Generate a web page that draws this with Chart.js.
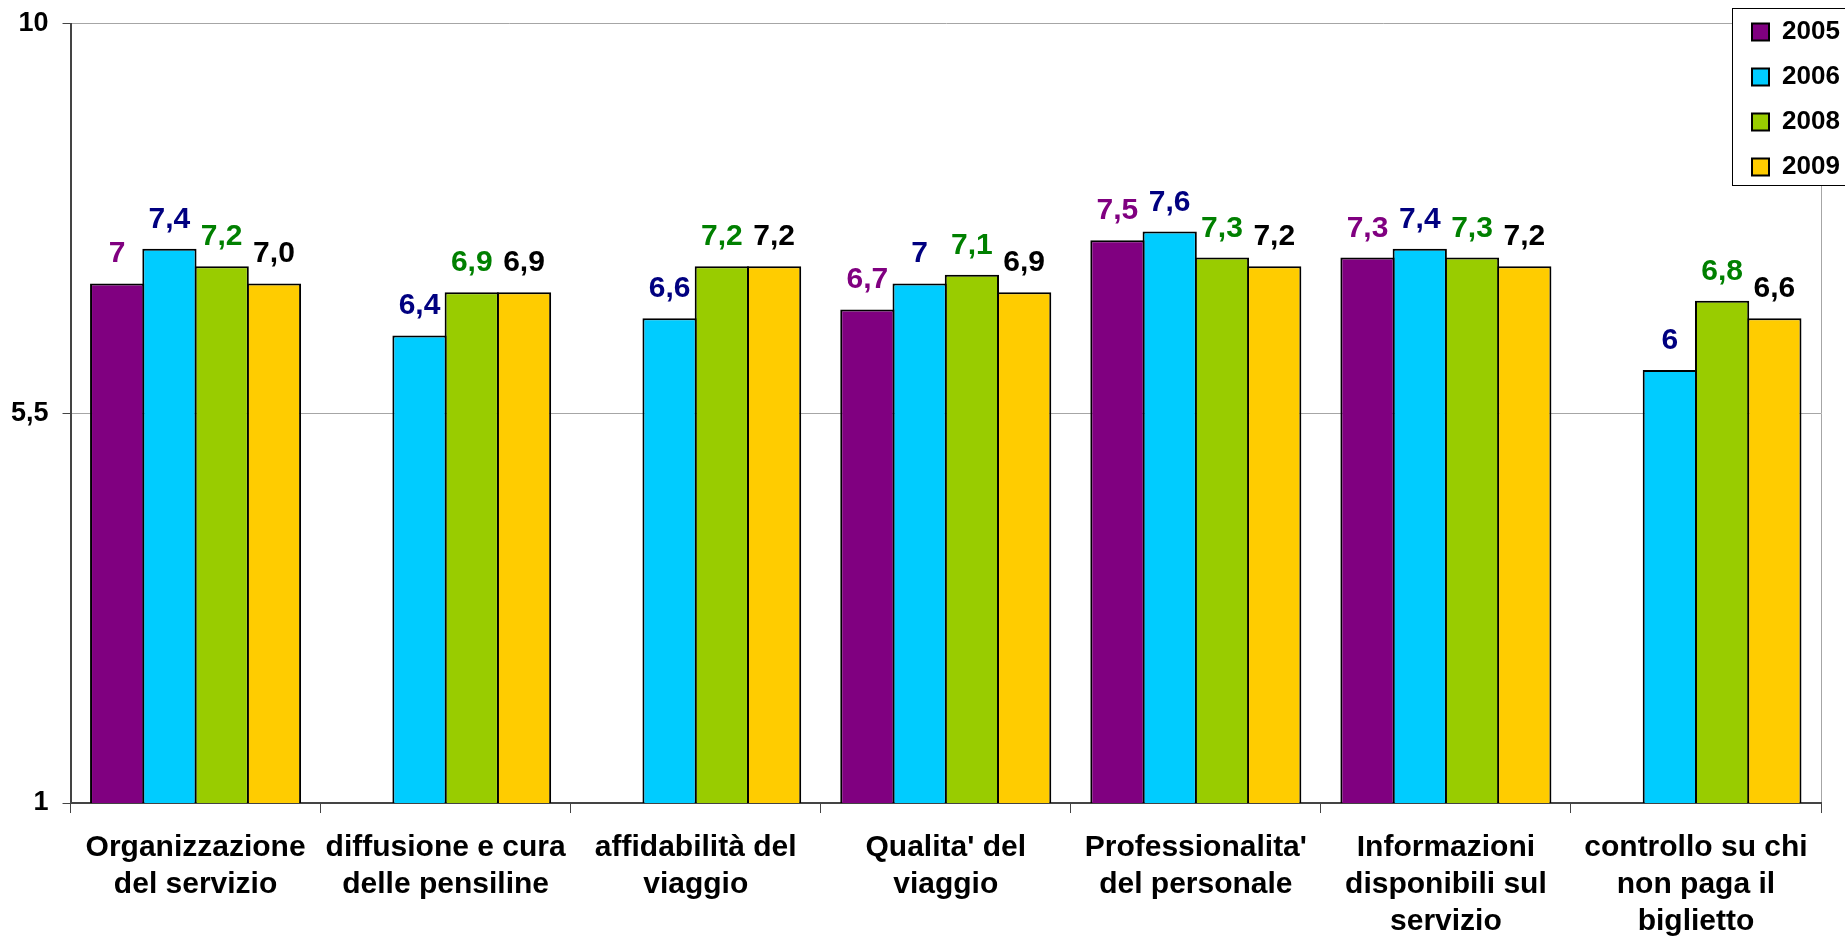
<!DOCTYPE html>
<html>
<head>
<meta charset="utf-8">
<script src="https://cdn.jsdelivr.net/npm/chart.js@4.4.0/dist/chart.umd.min.js"></script>
<style>
  html, body { margin: 0; padding: 0; background: #ffffff; overflow: hidden; }
  #wrap { width: 1845px; height: 938px; }
</style>
</head>
<body>
<div id="wrap"><canvas id="chart" width="1845" height="938"></canvas></div>
<script>
// Survey categories (multi-line x labels)
const categories = [
  ["Organizzazione", "del servizio"],
  ["diffusione e cura", "delle pensiline"],
  ["affidabilità del", "viaggio"],
  ["Qualita' del", "viaggio"],
  ["Professionalita'", "del personale"],
  ["Informazioni", "disponibili sul", "servizio"],
  ["controllo su chi", "non paga il", "biglietto"]
];

const years = ["2005", "2006", "2008", "2009"];

// Scores per year (null = not surveyed)
const scores2005 = [7.0, null, null, 6.7, 7.5, 7.3, null];
const scores2006 = [7.4, 6.4, 6.6, 7.0, 7.6, 7.4, 6.0];
const scores2008 = [7.2, 6.9, 7.2, 7.1, 7.3, 7.3, 6.8];
const scores2009 = [7.0, 6.9, 7.2, 6.9, 7.2, 7.2, 6.6];

// Decimals shown in the value labels (null = shortest form)
const labelDecimals = [null, null, null, 1];

const yTicks = [1, 5.5, 10];

const barColors   = ["#800080", "#00CCFF", "#99CC00", "#FFCC00"];
const labelColors = ["#800080", "#000080", "#008000", "#000000"];

const FONT = '"Liberation Sans", Arial, Helvetica, sans-serif';
Chart.defaults.font.family = FONT;
Chart.defaults.color = "#000";

function fmtComma(v, decimals) {
  const s = decimals == null ? String(v) : v.toFixed(decimals);
  return s.replace(".", ",");
}

const seriesValues = [scores2005, scores2006, scores2008, scores2009];

const datasets = years.map((y, i) => ({
  label: y,
  data: seriesValues[i],
  backgroundColor: barColors[i],
  borderColor: "#000000",
  borderWidth: 2,
  barPercentage: 1.038,
  categoryPercentage: 0.836
}));

// Value labels above every bar
const valueLabels = {
  id: "valueLabels",
  afterDatasetsDraw(chart) {
    const ctx = chart.ctx;
    ctx.save();
    ctx.font = "bold 30px " + FONT;
    ctx.textAlign = "center";
    ctx.textBaseline = "alphabetic";
    chart.data.datasets.forEach((ds, i) => {
      const meta = chart.getDatasetMeta(i);
      ctx.fillStyle = labelColors[i];
      meta.data.forEach((bar, j) => {
        const v = ds.data[j];
        if (v == null) return;
        ctx.fillText(fmtComma(v, labelDecimals[i]), bar.x, bar.y - 21);
      });
    });
    ctx.restore();
  }
};

// Legend placed in the upper-right corner, boxed on a white background
const LEGEND_LEFT = 1733;
const LEGEND_BOX_TOP = 8;
const LEGEND_BOX_BOTTOM = 185;
const legendBox = {
  id: "legendBox",
  afterLayout(chart) {
    const lg = chart.legend;
    if (!lg) return;
    const w = lg.width;
    lg.left = LEGEND_LEFT;
    lg.right = LEGEND_LEFT + w;
    lg.top = 0;
  },
  afterDraw(chart) {
    const lg = chart.legend;
    if (!lg) return;
    const ctx = chart.ctx;
    ctx.save();
    ctx.fillStyle = "#ffffff";
    ctx.fillRect(LEGEND_LEFT, LEGEND_BOX_TOP, chart.width, LEGEND_BOX_BOTTOM - LEGEND_BOX_TOP);
    ctx.strokeStyle = "#000000";
    ctx.lineWidth = 1;
    ctx.strokeRect(LEGEND_LEFT - 0.5, LEGEND_BOX_TOP + 0.5, chart.width, LEGEND_BOX_BOTTOM - LEGEND_BOX_TOP);
    ctx.restore();
    lg.draw();
  }
};

new Chart(document.getElementById("chart"), {
  type: "bar",
  data: { labels: categories, datasets },
  plugins: [valueLabels, legendBox],
  options: {
    responsive: false,
    animation: false,
    devicePixelRatio: 1,
    layout: { padding: { left: -3, right: 24, top: 20, bottom: -18 } },
    plugins: {
      tooltip: { enabled: false },
      legend: {
        position: "chartArea",
        align: "start",
        labels: {
          boxWidth: 17,
          boxHeight: 17,
          padding: 19,
          color: "#000",
          font: { size: 26, weight: "bold", family: FONT }
        }
      }
    },
    scales: {
      x: {
        type: "category",
        offset: true,
        grid: {
          offset: true,
          drawOnChartArea: false,
          drawTicks: true,
          tickLength: 10,
          tickColor: "#444",
          color: "#444"
        },
        border: { color: "#444", width: 2 },
        ticks: {
          color: "#000",
          padding: 16,
          maxRotation: 0,
          autoSkip: false,
          font: { size: 30, weight: "bold", family: FONT, lineHeight: 1.233 }
        }
      },
      y: {
        min: 1,
        max: 10,
        afterBuildTicks(scale) {
          scale.ticks = yTicks.map(v => ({ value: v }));
        },
        grid: {
          color: "#a6a6a6",
          lineWidth: 1,
          tickColor: "#444",
          tickLength: 8
        },
        border: { color: "#444", width: 2 },
        ticks: {
          color: "#000",
          padding: 14,
          font: { size: 27, weight: "bold", family: FONT, lineHeight: 0.72 },
          callback: (v) => fmtComma(v, null)
        }
      },
      yRight: {
        position: "right",
        min: 0,
        max: 1,
        grid: { display: false, drawTicks: false },
        ticks: { display: false },
        border: { color: "#a6a6a6", width: 1, z: -1 }
      }
    }
  }
});
</script>
</body>
</html>
